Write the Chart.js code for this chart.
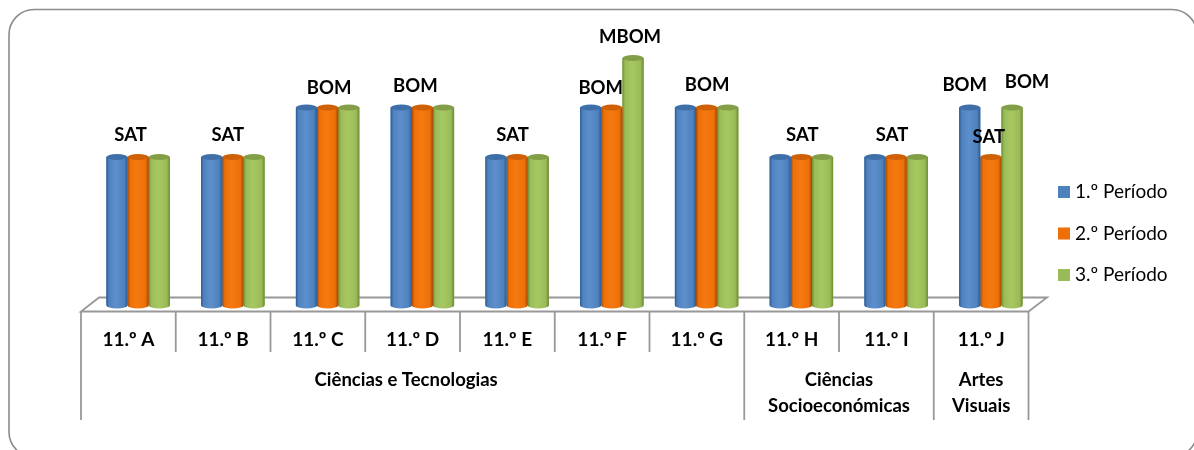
<!DOCTYPE html>
<html>
<head>
<meta charset="utf-8">
<style>html,body{margin:0;padding:0;background:#fff}canvas{display:block}</style>
<script src="https://cdn.jsdelivr.net/npm/chart.js@4"></script>
</head>
<body>
<canvas id="c" width="1194" height="450"></canvas>
<script>
const categories = ['11.º A','11.º B','11.º C','11.º D','11.º E','11.º F','11.º G','11.º H','11.º I','11.º J'];
const periodo1 = [3,3,4,4,3,4,4,3,3,4];
const periodo2 = [3,3,4,4,3,4,4,3,3,3];
const periodo3 = [3,3,4,4,3,5,4,3,3,4];
const seriesNames = ['1.º Período','2.º Período','3.º Período'];
const groups = [
  {lines:['Ciências e Tecnologias'], from:0, to:6},
  {lines:['Ciências','Socioeconómicas'], from:7, to:8},
  {lines:['Artes','Visuais'], from:9, to:9}
];
const gradeNames = {3:'SAT',4:'BOM',5:'MBOM'};
// which bars carry a label: [series, category, dx, dy]
const labelPlacement = [
  [1,0,-7.5,-21.5],[1,1,-5,-21.5],[1,2,1.5,-19.5],[1,3,-7,-21.5],[1,4,-4.5,-21.5],
  [0,5,10,-19.5],[2,5,-3,-21],[1,6,0.5,-22],[1,7,1,-21.5],[1,8,-4,-21.5],
  [0,9,-5,-22],[1,9,-2,-20],[2,9,15,-25]
];
const groupNudge = [-6.5,0,0];
const colours = [
  {dark:'#2a5a92',main:'#4f81bd',light:'#5c8fcc',cap:'#3f6fa8'},
  {dark:'#9c4904',main:'#ee6f08',light:'#f47a10',cap:'#cf6006'},
  {dark:'#6a8a34',main:'#9bbb59',light:'#a6c860',cap:'#829f48'}
];
const FONT = 'Lato, Carlito, sans-serif';
const GREY = '#989898';

function cylinderFill(g, b, c){
  const half = b.width/2, rx = half, ry = 3;
  const gr = g.createLinearGradient(b.x-half,0,b.x+half,0);
  gr.addColorStop(0,c.dark); gr.addColorStop(.12,c.main); gr.addColorStop(.45,c.light);
  gr.addColorStop(.85,c.main); gr.addColorStop(1,c.dark);
  g.fillStyle = gr;
  g.beginPath();
  g.moveTo(b.x-half,b.y);
  g.lineTo(b.x-half,b.base);
  g.ellipse(b.x,b.base,rx,ry,0,Math.PI,0,true);
  g.lineTo(b.x+half,b.y);
  g.closePath();
  g.fill();
  g.fillStyle = c.cap;
  g.beginPath();
  g.ellipse(b.x,b.y,rx,ry,0,0,Math.PI*2);
  g.fill();
}

const legendPad = 22.5;
const floorPlugin = {
  id:'floor',
  afterLayout(chart){
    const l = chart.legend;
    l.left = 1058-legendPad; l.right = 1194; l.top = 160; l.bottom = 440;
  },
  beforeDraw(chart){
    const g = chart.ctx, x = chart.scales.x;
    const shift = 9.75, step = x.getPixelForValue(1)-x.getPixelForValue(0);
    const edge = i => x.getPixelForValue(0)-step/2-shift+i*step;
    g.save();
    g.strokeStyle = '#8c8c8c'; g.lineWidth = 1.6;
    g.beginPath();
    g.roundRect(9,9.5,1188,447.5,25);
    g.stroke();
    g.strokeStyle = GREY; g.lineWidth = 1.8;
    const fy = 311.5, by = 297.5;
    g.beginPath();
    g.moveTo(edge(0),fy); g.lineTo(edge(10),fy); g.lineTo(edge(10)+18.5,by);
    g.lineTo(edge(0)+18,by); g.closePath();
    g.stroke();
    for(let i=0;i<=10;i++){
      const long = i===0||groups.some(r=>r.to+1===i);
      g.beginPath(); g.moveTo(edge(i),fy); g.lineTo(edge(i),long?420:352); g.stroke();
    }
    g.restore();
  },
  afterDatasetDraw(chart,args){
    const g = chart.ctx;
    chart.getDatasetMeta(args.index).data.forEach(b=>cylinderFill(g,b,colours[args.index]));
  },
  afterDraw(chart){
    const g = chart.ctx, x = chart.scales.x;
    g.save();
    // widen the legend swatches to the reference's size without moving their text
    colours.forEach((c,k)=>{
      g.fillStyle = c.main;
      g.fillRect(1065,192+k*41.5-6,5,12);
    });
    g.fillStyle = '#000'; g.textAlign = 'center'; g.textBaseline = 'middle';
    g.font = 'bold 18.5px '+FONT;
    const all = [periodo1,periodo2,periodo3];
    labelPlacement.forEach(([s,i,dx,dy])=>{
      const b = chart.getDatasetMeta(s).data[i];
      g.fillText(gradeNames[all[s][i]],b.x+dx,b.y+dy);
    });
    groups.forEach((r,n)=>{
      const cx = (x.getPixelForValue(r.from)+x.getPixelForValue(r.to))/2-9.75+groupNudge[n];
      r.lines.forEach((t,k)=>g.fillText(t,cx,380+k*26));
    });
    g.restore();
  }
};

new Chart(document.getElementById('c'),{
  type:'bar',
  data:{labels:categories,datasets:[
    {label:seriesNames[0],data:periodo1,backgroundColor:colours[0].main,borderWidth:0},
    {label:seriesNames[1],data:periodo2,backgroundColor:colours[1].main,borderWidth:0},
    {label:seriesNames[2],data:periodo3,backgroundColor:colours[2].main,borderWidth:0}
  ]},
  options:{
    responsive:false,animation:false,
    layout:{padding:{left:90.75,right:155.75,top:58,bottom:0}},
    categoryPercentage:.67,barPercentage:1,
    scales:{
      x:{grid:{display:false},border:{display:false},
        ticks:{autoSkip:false,maxRotation:0,minRotation:0,padding:14.5,labelOffset:-9.75,color:'#000',font:{family:FONT,size:19,weight:'bold'}},
        afterFit(s){s.height=144.5}},
      y:{display:false,min:0,max:5}
    },
    plugins:{
      tooltip:{enabled:false},
      legend:{position:'chartArea',align:'start',
        labels:{boxWidth:7.5,boxHeight:12,padding:legendPad,color:'#000',font:{family:FONT,size:19}}}
    }
  },
  plugins:[floorPlugin]
});
</script>
</body>
</html>
